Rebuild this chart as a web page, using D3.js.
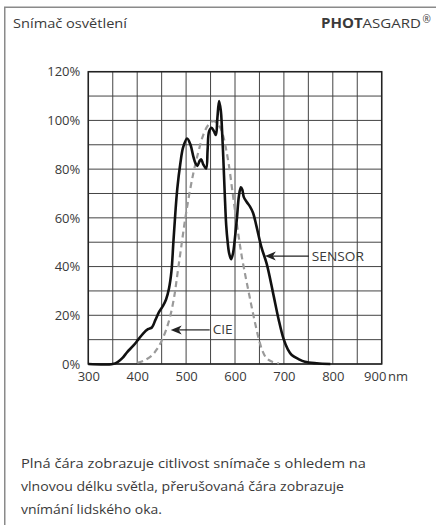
<!DOCTYPE html>
<html><head><meta charset="utf-8">
<script src="https://cdn.jsdelivr.net/npm/d3@7"></script>
<style>
html,body{margin:0;padding:0;background:#fff;}
svg{display:block;}
text{font-family:"Open Sans","DejaVu Sans",sans-serif;fill:#3a3a3a;}
</style></head>
<body>
<script>
const title = "Snímač osvětlení";
const xTicks = [300, 400, 500, 600, 700, 800, 900];
const yTicks = [0, 20, 40, 60, 80, 100, 120];
const xUnit = "nm";
const sensorNm  = [300,350,360,370,380,392,402,412,422,430,437,445,453,459,465,470,474,478,482,488,494,502,509,515,519,523,528,531,535,541,544,547,552,557,561,564,567.5,571,573,576,579,582,585,588,592,596,600,604,608,612,615,618,624,631,637,644,654,665,678,689,699,708,716,730,743,767,795];
const sensorPct = [0,0,0.8,2.5,5,7.5,10,12.5,14.3,15,18,21.5,24,26.5,31,38,50,62,72,82,89,92.6,90,85,82.5,81.3,83.5,84,82,80.3,88,95.5,97,95.5,94,101,108,104,98,85,70,57,50,45.5,43,45.5,52,60,69,72.5,71.5,68.5,66.5,64.5,62,56.5,48,41,29,18.5,10.5,6,3.7,2,0.9,0.3,0];
const cieNm  = [400,415,430,440,450,460,468,476,483,490,497,505,515,525,535,545,555,563,570,576,582,588,594,600,607,614,621,628,635,642,649,656,664,675,690];
const ciePct = [0.5,1.5,3.5,6,9.5,14.5,20,28,38,48,58,68,78.5,87,94,98,99.7,99,97,93.5,88,81,72,63,53,44,36.5,29.5,22.5,16,10,5.5,2.5,1,0.3];
const labels = [{name:"SENSOR", nm:661, pct:44.3}, {name:"CIE", nm:468.5, pct:14}];
const footer = ["Plná čára zobrazuje citlivost snímače s ohledem na",
                "vlnovou délku světla, přerušovaná čára zobrazuje",
                "vnímání lidského oka."];

const W = 436, H = 525;
const svg = d3.select("body").append("svg").attr("width", W).attr("height", H);

// outer frame (left + top)
svg.append("path").attr("d", `M4.75,${H} V7.25 H${W}`).attr("fill","none").attr("stroke","#8a8a8a").attr("stroke-width",1.5);

// title
svg.append("text").attr("x", 13).attr("y", 28).attr("font-size", 13.5)
  .attr("textLength", 114).attr("lengthAdjust","spacingAndGlyphs").text(title);
const brand = svg.append("text").attr("x", 321).attr("y", 28).attr("font-size",13.5)
  .attr("textLength", 100).attr("lengthAdjust","spacingAndGlyphs");
brand.append("tspan").attr("font-weight","bold").text("PHOT");
brand.append("tspan").text("ASGARD");
svg.append("text").attr("x", 422.5).attr("y", 23).attr("font-size", 10).text("®");

const x = d3.scaleLinear().domain([300, 900]).range([88.3, 381.7]);
const y = d3.scaleLinear().domain([0, 120]).range([364, 71.7]);

// grid
const g = svg.append("g");
g.selectAll(".vg").data(d3.range(300, 901, 50)).enter().append("line")
  .attr("x1", d => x(d)).attr("x2", d => x(d)).attr("y1", y(0)).attr("y2", y(120))
  .attr("stroke", "#444").attr("stroke-width", 1);
g.selectAll(".hg").data(d3.range(0, 121, 10)).enter().append("line")
  .attr("y1", d => y(d)).attr("y2", d => y(d)).attr("x1", x(300)).attr("x2", x(900))
  .attr("stroke", "#444").attr("stroke-width", 1);
g.append("rect").attr("x", x(300)).attr("y", y(120)).attr("width", x(900)-x(300)).attr("height", y(0)-y(120))
  .attr("fill","none").attr("stroke","#222").attr("stroke-width",1.5);

// axes (tick labels via d3 axis)
const xAxis = svg.append("g").attr("transform", `translate(0,${y(0)})`)
  .call(d3.axisBottom(x).tickValues(xTicks).tickSize(0).tickPadding(8).tickFormat(d3.format("d")));
xAxis.select(".domain").remove();
xAxis.selectAll("text").attr("font-size", 13).attr("fill","#4a4a4a").style("font-family","'Open Sans', sans-serif")
  .attr("dx", d => d === 900 ? -7 : 0);
svg.append("text").attr("x", 388).attr("y", y(0)+8).attr("dy","0.71em").attr("font-size",13).attr("fill","#4a4a4a").text(xUnit);

const yAxis = svg.append("g").attr("transform", `translate(${x(300)},0)`)
  .call(d3.axisLeft(y).tickValues(yTicks).tickSize(0).tickPadding(8).tickFormat(d => d + "%"));
yAxis.select(".domain").remove();
yAxis.selectAll("text").attr("font-size", 13).attr("fill","#4a4a4a").style("font-family","'Open Sans', sans-serif");

// curves
const line = d3.line().x(d => x(d[0])).y(d => y(d[1])).curve(d3.curveCatmullRom.alpha(0.5));
svg.append("path").datum(cieNm.map((n,i)=>[n, ciePct[i]])).attr("d", line)
  .attr("fill","none").attr("stroke","#9a9a9a").attr("stroke-width",2.2).attr("stroke-dasharray","6,4");
svg.append("path").datum(sensorNm.map((n,i)=>[n, sensorPct[i]])).attr("d", line)
  .attr("fill","none").attr("stroke","#111").attr("stroke-width",2.6).attr("stroke-linejoin","round");

// annotations
labels.forEach((lb, i) => {
  const tipX = x(lb.nm), tipY = y(lb.pct);
  const tx = tipX + (i === 0 ? 47 : 42);
  svg.append("line").attr("x1", tipX+8).attr("x2", tx-3).attr("y1", tipY).attr("y2", tipY).attr("stroke","#222").attr("stroke-width",1.2);
  svg.append("path").attr("d", `M${tipX},${tipY} L${tipX+11},${tipY-4.5} L${tipX+8},${tipY} L${tipX+11},${tipY+4.5} Z`).attr("fill","#222");
  svg.append("text").attr("x", tx).attr("y", tipY).attr("dy","0.35em").attr("font-size",13).attr("fill","#333")
    .attr("textLength", i === 0 ? 52 : 20).attr("lengthAdjust","spacingAndGlyphs").text(lb.name);
});

// footer
const footLen = [345, 323, 141];
svg.selectAll(".ft").data(footer).enter().append("text")
  .attr("x", 21).attr("y", (d,i) => 468 + i*23).attr("font-size", 12.8).attr("fill","#333")
  .attr("textLength", (d,i) => footLen[i]).attr("lengthAdjust","spacingAndGlyphs").text(d => d);
</script>
</body></html>
